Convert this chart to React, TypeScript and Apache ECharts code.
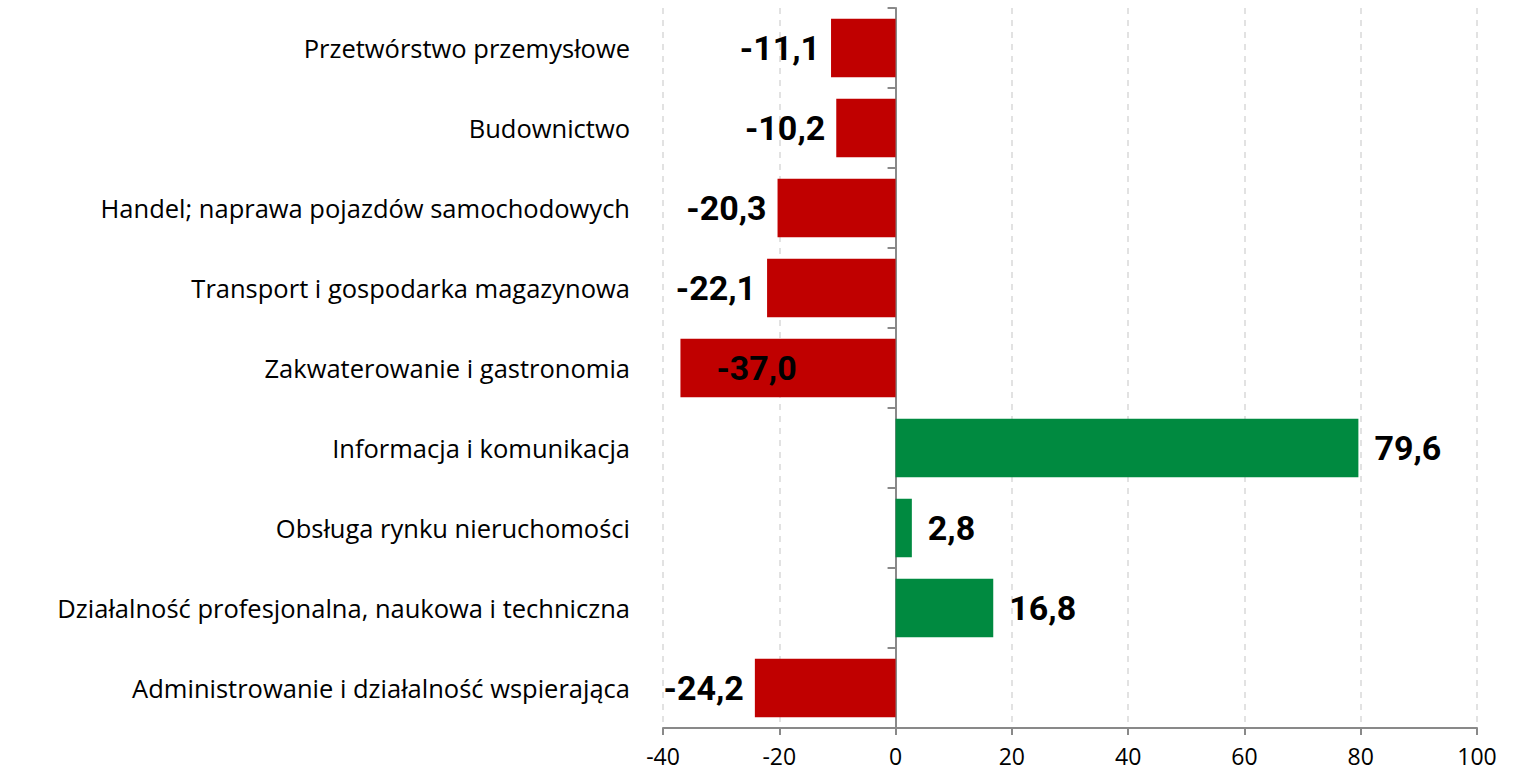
import React, { useEffect, useRef } from "react";
import * as echarts from "echarts";

const categories = [
  "Przetwórstwo przemysłowe",
  "Budownictwo",
  "Handel; naprawa pojazdów samochodowych",
  "Transport i gospodarka magazynowa",
  "Zakwaterowanie i gastronomia",
  "Informacja i komunikacja",
  "Obsługa rynku nieruchomości",
  "Działalność profesjonalna, naukowa i techniczna",
  "Administrowanie i działalność wspierająca",
];
const values = [-11.1, -10.2, -20.3, -22.1, -37.0, 79.6, 2.8, 16.8, -24.2];
const xTicks = { min: -40, max: 100, interval: 20 };

const RED = "#C00000";
const GREEN = "#008A40";
const FONT = "'Open Sans', 'Noto Sans', sans-serif";
const BOLD_FONT = "Roboto, 'Noto Sans', sans-serif";

export default function App() {
  const ref = useRef<HTMLDivElement>(null);
  useEffect(() => {
    document.body.style.margin = "0";
    const chart = echarts.init(ref.current!, null, { renderer: "svg" });
    const fmt = (v: number) => v.toFixed(1).replace(".", ",");
    const data = values.map((v) => {
      const neg = v < 0;
      const inside = v <= -35;
      return {
        value: v,
        itemStyle: { color: neg ? RED : GREEN },
        label: inside
          ? { position: "insideLeft", distance: 36 }
          : { position: neg ? "left" : "right", distance: neg ? 11 : 16 },
      };
    });
    chart.setOption({
      animation: false,
      textStyle: { fontFamily: FONT },
      grid: { left: 663, right: 37, top: 8, bottom: 46, containLabel: false },
      xAxis: {
        type: "value",
        min: xTicks.min,
        max: xTicks.max,
        interval: xTicks.interval,
        axisLine: { show: true, lineStyle: { color: "#898989", width: 2 } },
        axisTick: { show: true, length: 7, lineStyle: { color: "#898989", width: 2 } },
        axisLabel: { color: "#000", fontSize: 23, lineHeight: 23, margin: 16, fontFamily: FONT },
        splitLine: { show: true, lineStyle: { color: "#D9D9D9", type: [6, 6], width: 1.5 } },
      },
      yAxis: [
        {
          type: "category",
          data: categories,
          inverse: true,
          axisLine: { show: false, onZero: false },
          axisTick: { show: false },
          axisLabel: { color: "#000", fontSize: 25.5, margin: 33, fontFamily: FONT },
        },
        {
          type: "category",
          data: categories,
          inverse: true,
          position: "left",
          axisLine: { show: true, onZero: true, lineStyle: { color: "#898989", width: 2 } },
          axisTick: { show: true, length: 8, lineStyle: { color: "#898989", width: 2 } },
          axisLabel: { show: false },
        },
      ],
      series: [
        {
          type: "bar",
          yAxisIndex: 0,
          data,
          barCategoryGap: "27%",
          label: {
            show: true,
            formatter: (p: any) => fmt(p.value),
            color: "#000",
            fontWeight: "bold",
            fontSize: 34,
            fontFamily: BOLD_FONT,
          },
        },
      ],
    });
    return () => chart.dispose();
  }, []);
  return <div ref={ref} style={{ width: 1514, height: 774 }} />;
}
